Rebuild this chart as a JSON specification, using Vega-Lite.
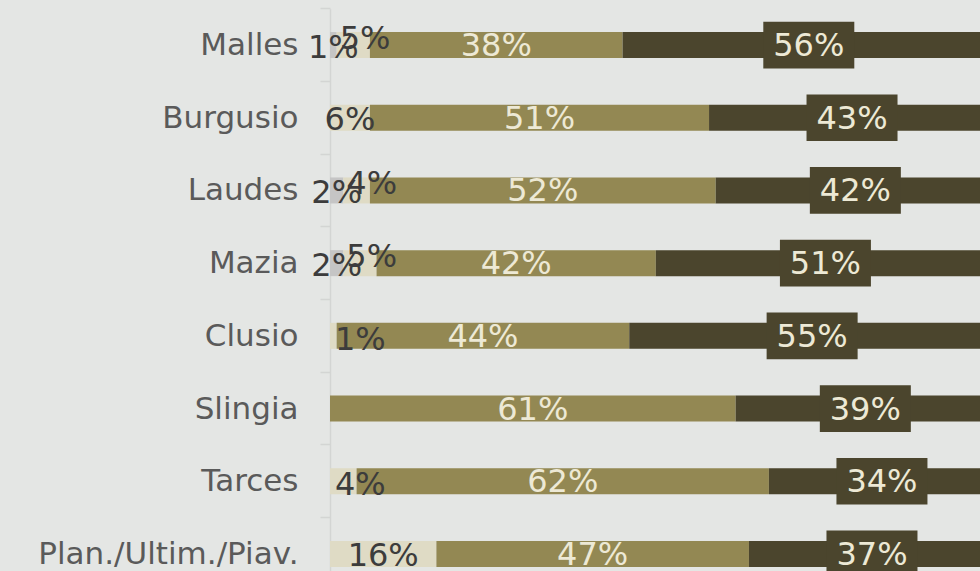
{
  "$schema": "https://vega.github.io/schema/vega-lite/v6.json",
  "width": 650,
  "height": 571,
  "autosize": {"type": "none"},
  "padding": {"left": 330, "top": 0, "right": 0, "bottom": 0},
  "background": "#e4e6e4",
  "config": {
    "view": {"stroke": null},
    "font": "DejaVu Sans",
    "text": {"font": "DejaVu Sans"}
  },
  "data": {
    "values": [
      {"cat": "Malles", "seg": "grey", "value": 1},
      {"cat": "Malles", "seg": "light", "value": 5},
      {"cat": "Malles", "seg": "olive", "value": 38},
      {"cat": "Malles", "seg": "dark", "value": 56},
      {"cat": "Burgusio", "seg": "light", "value": 6},
      {"cat": "Burgusio", "seg": "olive", "value": 51},
      {"cat": "Burgusio", "seg": "dark", "value": 43},
      {"cat": "Laudes", "seg": "grey", "value": 2},
      {"cat": "Laudes", "seg": "light", "value": 4},
      {"cat": "Laudes", "seg": "olive", "value": 52},
      {"cat": "Laudes", "seg": "dark", "value": 42},
      {"cat": "Mazia", "seg": "grey", "value": 2},
      {"cat": "Mazia", "seg": "light", "value": 5},
      {"cat": "Mazia", "seg": "olive", "value": 42},
      {"cat": "Mazia", "seg": "dark", "value": 51},
      {"cat": "Clusio", "seg": "light", "value": 1},
      {"cat": "Clusio", "seg": "olive", "value": 44},
      {"cat": "Clusio", "seg": "dark", "value": 55},
      {"cat": "Slingia", "seg": "olive", "value": 61},
      {"cat": "Slingia", "seg": "dark", "value": 39},
      {"cat": "Tarces", "seg": "light", "value": 4},
      {"cat": "Tarces", "seg": "olive", "value": 62},
      {"cat": "Tarces", "seg": "dark", "value": 34},
      {"cat": "Plan./Ultim./Piav.", "seg": "light", "value": 16},
      {"cat": "Plan./Ultim./Piav.", "seg": "olive", "value": 47},
      {"cat": "Plan./Ultim./Piav.", "seg": "dark", "value": 37}
    ]
  },
  "transform": [
    {"calculate": "indexof(['grey','light','olive','dark'], datum.seg)", "as": "order"},
    {"stack": "value", "groupby": ["cat"], "sort": [{"field": "order", "order": "ascending"}], "as": ["x0", "x1"]},
    {"calculate": "(datum.x0 + datum.x1) / 2", "as": "mid"},
    {"calculate": "datum.value + '%'", "as": "label"}
  ],
  "encoding": {
    "y": {
      "field": "cat",
      "type": "nominal",
      "sort": ["Malles", "Burgusio", "Laudes", "Mazia", "Clusio", "Slingia", "Tarces", "Plan./Ultim./Piav."],
      "scale": {"range": [8.7, 590.3], "paddingInner": 0, "paddingOuter": 0},
      "axis": {
        "title": null,
        "domainColor": "#d3d5d3",
        "domainWidth": 1.5,
        "tickColor": "#d3d5d3",
        "tickWidth": 1.5,
        "tickSize": 10,
        "bandPosition": 0,
        "labelFont": "DejaVu Sans",
        "labelFontSize": 31,
        "labelColor": "#5a5a5a",
        "labelPadding": 22,
        "labelLimit": 0,
        "labelOffset": 1
      }
    }
  },
  "layer": [
    {
      "mark": {"type": "bar", "height": 26, "clip": true},
      "encoding": {
        "x": {"field": "x0", "type": "quantitative", "scale": {"domain": [0, 100], "range": [0, 665]}, "axis": null},
        "x2": {"field": "x1"},
        "color": {
          "field": "seg",
          "type": "nominal",
          "scale": {"domain": ["grey", "light", "olive", "dark"], "range": ["#c5c5c5", "#dfdbc5", "#938853", "#4b452d"]},
          "legend": null
        }
      }
    },
    {
      "transform": [{"filter": "datum.seg == 'dark'"}],
      "mark": {"type": "point", "shape": "M-1,-0.513L1,-0.513L1,0.513L-1,0.513Z", "size": 8281, "filled": true, "opacity": 1, "color": "#4b452d", "strokeWidth": 0, "clip": true},
      "encoding": {
        "x": {"field": "mid", "type": "quantitative"}
      }
    },
    {
      "transform": [{"filter": "datum.seg == 'olive' || datum.seg == 'dark'"}],
      "mark": {"type": "text", "fontSize": 32, "color": "#ede9d5", "align": "center", "baseline": "middle", "dy": 1},
      "encoding": {
        "x": {"field": "mid", "type": "quantitative"},
        "text": {"field": "label"}
      }
    },
    {
      "transform": [{"filter": "datum.seg == 'grey'"}],
      "mark": {"type": "text", "fontSize": 32, "color": "#3c3c3c", "align": "center", "baseline": "middle", "dy": 3},
      "encoding": {
        "x": {"field": "mid", "type": "quantitative"},
        "text": {"field": "label"}
      }
    },
    {
      "transform": [{"filter": "datum.seg == 'light' && (datum.cat == 'Malles' || datum.cat == 'Laudes' || datum.cat == 'Mazia')"}],
      "mark": {"type": "text", "fontSize": 32, "color": "#3c3c3c", "align": "left", "baseline": "middle", "dx": 3, "dy": -6},
      "encoding": {
        "x": {"field": "x0", "type": "quantitative"},
        "text": {"field": "label"}
      }
    },
    {
      "transform": [{"filter": "datum.seg == 'light' && (datum.cat == 'Clusio' || datum.cat == 'Tarces')"}],
      "mark": {"type": "text", "fontSize": 32, "color": "#3c3c3c", "align": "left", "baseline": "middle", "dx": 5, "dy": 4},
      "encoding": {
        "x": {"field": "x0", "type": "quantitative"},
        "text": {"field": "label"}
      }
    },
    {
      "transform": [{"filter": "datum.seg == 'light' && (datum.cat == 'Burgusio' || datum.cat == 'Plan./Ultim./Piav.')"}],
      "mark": {"type": "text", "fontSize": 32, "color": "#3c3c3c", "align": "center", "baseline": "middle", "dy": 2},
      "encoding": {
        "x": {"field": "mid", "type": "quantitative"},
        "text": {"field": "label"}
      }
    }
  ]
}
